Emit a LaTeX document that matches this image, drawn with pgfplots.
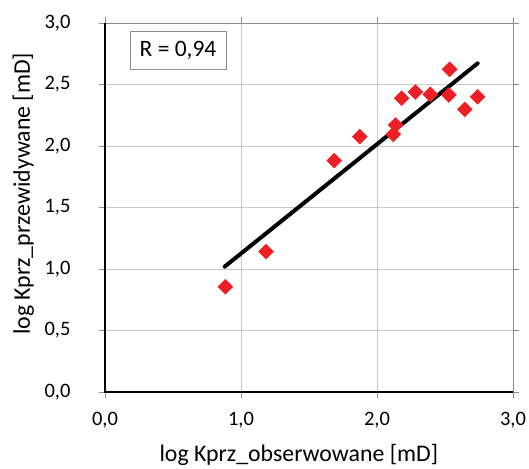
\documentclass[border=0pt]{standalone}
\usepackage{fontspec}
\setmainfont{Carlito}
\usepackage{pgfplots}
\pgfplotsset{compat=1.18}
\definecolor{ptred}{RGB}{236,32,36}
\definecolor{gridgray}{RGB}{200,200,200}
\definecolor{boxgray}{RGB}{140,140,140}

\begin{document}
\begin{tikzpicture}
\begin{axis}[
scale only axis,
width=408pt, height=369pt,
xmin=0, xmax=3, ymin=0, ymax=3,
xtick={0,1,2,3}, ytick={0,0.5,...,3},
/pgf/number format/fixed,
/pgf/number format/fixed zerofill,
/pgf/number format/precision=1,
/pgf/number format/use comma,
/pgf/number format/assume math mode=true,
tick label style={font=\fontsize{20.5}{24}\selectfont},
label style={font=\fontsize{23.8}{28}\selectfont},
grid=major,
major grid style={gridgray, line width=0.9pt},
axis line style={boxgray, line width=0.9pt},
tick align=outside,
major tick length=6pt,
tick style={boxgray, line width=0.9pt},
xticklabel style={anchor=base, yshift=-27pt},
yticklabel style={anchor=east, xshift=-25pt},
xlabel={log Kprz\_obserwowane [mD]},
ylabel={log Kprz\_przewidywane [mD]},
xlabel style={at={(rel axis cs:0.475,-0.189)}, anchor=base},
ylabel style={at={(rel axis cs:-0.184,0.537)}, anchor=base},
clip=false,
]
\addplot[only marks, mark=square*, mark size=5.3pt, color=ptred,
  mark options={rotate=45, fill=ptred, draw=ptred}] coordinates {
(0.885, 0.856)
(1.184, 1.141)
(1.686, 1.881)
(1.873, 2.076)
(2.120, 2.095)
(2.137, 2.171)
(2.181, 2.388)
(2.282, 2.439)
(2.392, 2.420)
(2.534, 2.623)
(2.529, 2.415)
(2.645, 2.298)
(2.740, 2.401)
};
\addplot[black, line width=4pt, line cap=round] coordinates {
(0.880, 1.019)
(2.740, 2.672)
};
\draw[black, line width=1.2pt] (rel axis cs:0,1) -- (rel axis cs:0,0) -- (rel axis cs:1,0);
\node[draw=boxgray, fill=white, line width=0.8pt, minimum width=96pt, minimum height=37.6pt, inner sep=0pt,
  font=\fontsize{23.5}{28}\selectfont]
  at (axis cs:0.537,2.776) {R = 0,94};
\end{axis}
\pgfresetboundingbox
\path[use as bounding box] (-105pt,-76pt) rectangle (424pt,392pt);
\end{tikzpicture}
\end{document}
